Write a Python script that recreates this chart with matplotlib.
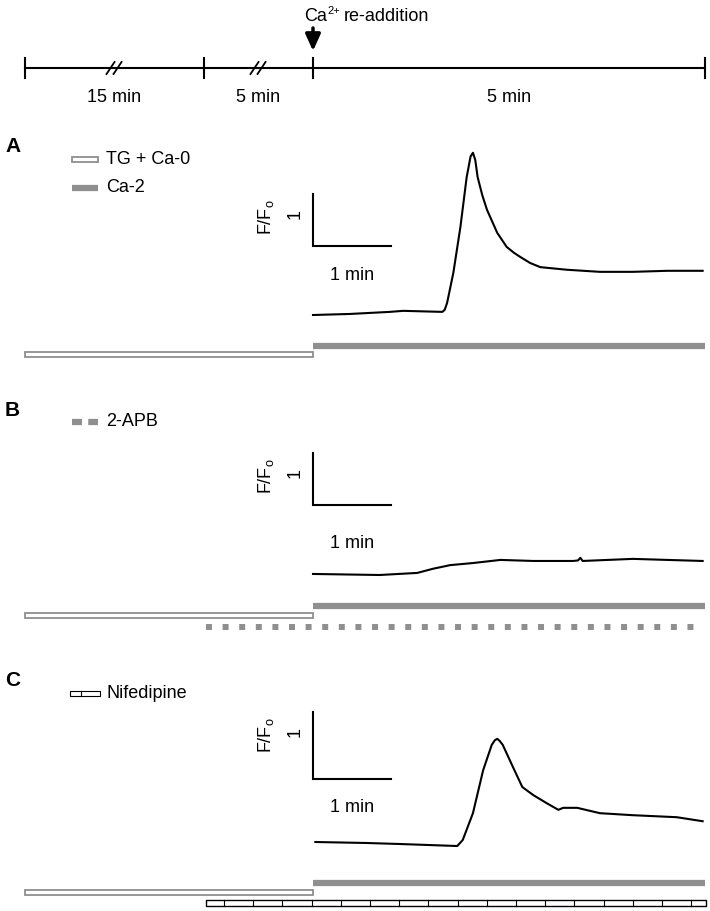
import matplotlib.pyplot as plt
import numpy as np
from matplotlib.patches import Rectangle

plt.rcParams['font.family'] = ['Liberation Sans', 'DejaVu Sans']
plt.rcParams['mathtext.fontset'] = 'custom'
plt.rcParams['mathtext.rm'] = 'Liberation Sans'
plt.rcParams['mathtext.it'] = 'Liberation Sans:italic'
plt.rcParams['mathtext.bf'] = 'Liberation Sans:bold'

# ---- data (time in min after Ca2+ re-addition, F/Fo) ----
t_a = [0, 0.47, 0.98, 1.15, 1.40, 1.65, 1.68, 1.71, 1.79, 1.88, 1.96, 2.01, 2.04, 2.07, 2.10,
       2.16, 2.22, 2.35, 2.47, 2.56, 2.64, 2.77, 2.90, 3.24, 3.66, 4.08, 4.52, 4.97]
f_a = [1.00, 1.02, 1.06, 1.08, 1.07, 1.06, 1.10, 1.23, 1.81, 2.69, 3.65, 4.05, 4.12, 3.98, 3.65,
       3.30, 3.02, 2.58, 2.31, 2.20, 2.12, 2.00, 1.92, 1.87, 1.83, 1.83, 1.85, 1.85]

t_b = [0, 0.85, 1.33, 1.53, 1.75, 2.04, 2.39, 2.81, 3.32, 3.38, 3.41, 3.44, 4.08, 4.52, 4.97]
f_b = [1.02, 1.00, 1.04, 1.12, 1.19, 1.23, 1.29, 1.27, 1.27, 1.28, 1.33, 1.27, 1.31, 1.29, 1.27]

t_c = [0.03, 0.69, 1.11, 1.84, 1.91, 2.04, 2.17, 2.28, 2.32, 2.35, 2.38, 2.42, 2.55, 2.67, 2.81,
       2.98, 3.13, 3.19, 3.37, 3.66, 4.08, 4.64, 4.97]
f_c = [1.00, 0.985, 0.97, 0.94, 1.03, 1.43, 2.07, 2.45, 2.52, 2.54, 2.51, 2.45, 2.12, 1.82, 1.70,
       1.58, 1.48, 1.51, 1.51, 1.43, 1.40, 1.37, 1.31]

# timeline (schematic positions, min; pre-phase compressed)
timeline_ticks = [-3.673, -1.390, 0, 5]
timeline_labels = ['15 min', '5 min', '5 min']

# ---- layout ----
W, H = 710, 911
X0_PX, PX_MIN = 313, 78.4
GRAY = '#8f8f8f'
FS = 13


def tx(px):
    return (px - X0_PX) / PX_MIN


XLIM = (tx(0), tx(W))
fig = plt.figure(figsize=(W / 100, H / 100), dpi=100)


def make_axes(top, bottom, ylim):
    ax = fig.add_axes([0, 1 - bottom / H, 1, (bottom - top) / H])
    ax.set_xlim(XLIM)
    ax.set_ylim(ylim)
    ax.axis('off')
    return ax


# timeline
ax = make_axes(0, 120, (120, 0))
ax.plot([timeline_ticks[0], timeline_ticks[-1]], [68, 68], color='k', lw=1.5)
for t in timeline_ticks:
    ax.plot([t, t], [58, 78], color='k', lw=1.5)
for i, lab in enumerate(timeline_labels):
    mid = (timeline_ticks[i] + timeline_ticks[i + 1]) / 2
    ax.text(mid, 97, lab, ha='center', va='center', fontsize=FS)
    if i < 2:
        for d in (-4, 3):
            ax.plot([mid + (d - 4) / PX_MIN, mid + (d + 4) / PX_MIN], [74, 62], color='k', lw=1.3)
ax.annotate('', xy=(0, 51), xytext=(0, 28),
            arrowprops=dict(arrowstyle='-|>,head_width=0.45,head_length=1.0', lw=2.5,
                            color='k', shrinkA=0, shrinkB=0, mutation_scale=10))
ca = ax.text(tx(304), 21, 'Ca', ha='left', va='baseline', fontsize=FS)
sup = ax.annotate('2+', xy=(1, 0.55), xycoords=ca, xytext=(0.5, 0), textcoords='offset points',
                  ha='left', va='bottom', fontsize=8)
ax.annotate('re-addition', xy=(1, 0), xycoords=ca, xytext=(12, 0), textcoords='offset points',
            ha='left', va='bottom', fontsize=FS)


def panel(top, bottom, base, unit, letter, letter_y, bar_bot, bar_len, min_y, t, f):
    ylim = (1 - (bottom - base) / unit, 1 + (base - top) / unit)
    ax = make_axes(top, bottom, ylim)

    def py(px):
        return 1 + (base - px) / unit
    ax.text(tx(5), py(letter_y), letter, fontsize=15, fontweight='bold', ha='left', va='center')
    # scale bar
    yb = py(bar_bot)
    ax.plot([0, 0, 1], [yb + bar_len / unit, yb, yb], color='k', lw=1.5, solid_joinstyle='miter')
    bar_top = bar_bot - bar_len
    ax.text(tx(266), py(bar_top + 23), r'F/F$_{\mathrm{o}}$', rotation=90, fontsize=FS,
            ha='center', va='center')
    ax.text(tx(295), py(bar_top + 20), '1', rotation=90, fontsize=FS, ha='center', va='center')
    ax.text(0.5, py(min_y), '1 min', fontsize=FS, ha='center', va='center')
    ax.plot(t, f, color='k', lw=1.5)
    return ax, py


def ca2_bar(ax, py, y):
    ax.plot([0, 5], [py(y), py(y)], color=GRAY, lw=4.5, solid_capstyle='butt')


def tg_bar(ax, py, y, unit):
    ax.add_patch(Rectangle((timeline_ticks[0], py(y) - 2.5 / unit), -timeline_ticks[0], 5 / unit,
                           fc='white', ec=GRAY, lw=1.3))


# A
ax, py = panel(120, 370, 315, 52, 'A', 146, 246, 52, 275, t_a, f_a)
ax.add_patch(Rectangle((tx(72), py(159) - 2.5 / 52), tx(98) - tx(72), 5 / 52, fc='white', ec=GRAY, lw=1.3))
ax.text(tx(106), py(159), 'TG + Ca-0', fontsize=FS, va='center')
ax.plot([tx(72), tx(98)], [py(188), py(188)], color=GRAY, lw=4.5, solid_capstyle='butt')
ax.text(tx(106), py(188), 'Ca-2', fontsize=FS, va='center')
ca2_bar(ax, py, 346)
tg_bar(ax, py, 354.5, 52)

# B
ax, py = panel(370, 645, 575, 52, 'B', 411, 505, 52, 543, t_b, f_b)
ax.plot([tx(72), tx(98)], [py(422), py(422)], color=GRAY, lw=4.5,
        linestyle=(0, (1.6, 1.0)), dash_capstyle='butt')
ax.text(tx(106), py(422), '2-APB', fontsize=FS, va='center')
ca2_bar(ax, py, 606)
tg_bar(ax, py, 615.5, 52)
ax.plot([tx(206), tx(701)], [py(627), py(627)], color=GRAY, lw=4.3,
        linestyle=(0, (1.0, 1.78)), dash_capstyle='butt')

# C
ax, py = panel(645, 911, 842, 67, 'C', 680, 779, 67, 808, t_c, f_c)
ax.add_patch(Rectangle((tx(70), py(693) - 2.5 / 67), tx(100) - tx(70), 5 / 67, fc='white', ec='k', lw=0.8))
ax.plot([tx(81), tx(81)], [py(693) - 2.5 / 67, py(693) + 2.5 / 67], color='k', lw=0.8)
ax.text(tx(106), py(693), 'Nifedipine', fontsize=FS, va='center')
ca2_bar(ax, py, 883)
tg_bar(ax, py, 892, 67)
ax.add_patch(Rectangle((tx(206), py(906)), tx(706) - tx(206), 6 / 67, fc='white', ec='k', lw=1))
for d in np.arange(tx(224), tx(706), 29.2 / PX_MIN):
    ax.plot([d, d], [py(906), py(900)], color='k', lw=0.8)

fig.savefig('out.png', dpi=100)
